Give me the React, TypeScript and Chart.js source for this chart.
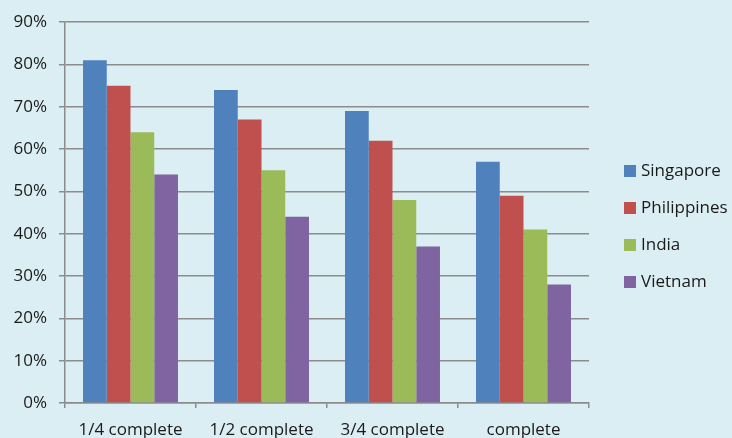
import React, { useEffect, useRef } from "react";
import { Chart, registerables } from "chart.js";

Chart.register(...registerables);

const categories = ["1/4 complete", "1/2 complete", "3/4 complete", "complete"];
const seriesNames = ["Singapore", "Philippines", "India", "Vietnam"];
const singapore = [81, 74, 69, 57];
const philippines = [75, 67, 62, 49];
const india = [64, 55, 48, 41];
const vietnam = [54, 44, 37, 28];
const colors = ["#4F81BD", "#C0504D", "#9BBB59", "#8064A2"];
const FONT = "'Open Sans', sans-serif";

const legendPlugin = {
  id: "customLegend",
  afterDraw(chart: any) {
    const ctx = chart.ctx;
    ctx.save();
    ctx.font = `17px ${FONT}`;
    ctx.textBaseline = "middle";
    ctx.textAlign = "left";
    chart.data.datasets.forEach((ds: any, i: number) => {
      const y = 171 + i * 37;
      ctx.fillStyle = ds.backgroundColor;
      ctx.fillRect(624, y - 6, 12, 12);
      ctx.fillStyle = "#1a1a1a";
      ctx.fillText(ds.label, 641, y);
    });
    ctx.restore();
  },
};

export default function App() {
  const ref = useRef<HTMLCanvasElement>(null);
  useEffect(() => {
    document.body.style.margin = "0";
    const values = [singapore, philippines, india, vietnam];
    const chart = new Chart(ref.current!, {
      type: "bar",
      data: {
        labels: categories,
        datasets: seriesNames.map((name, i) => ({
          label: name,
          data: values[i],
          backgroundColor: colors[i],
          borderWidth: 0,
          barPercentage: 1,
          categoryPercentage: 0.725,
        })),
      },
      options: {
        animation: false,
        responsive: false,
        maintainAspectRatio: false,
        layout: { padding: { top: 17, right: 143, left: 0, bottom: 0 } },
        plugins: { legend: { display: false }, tooltip: { enabled: false } },
        scales: {
          x: {
            grid: {
              display: true,
              drawOnChartArea: false,
              drawTicks: true,
              tickLength: 5,
              color: "#8c8c8c",
              lineWidth: 1.5,
            },
            border: { display: true, color: "#8c8c8c", width: 1.5 },
            ticks: { color: "#1a1a1a", font: { family: FONT, size: 17 }, padding: 12, maxRotation: 0 },
            afterFit(scale: any) {
              scale.height = 35;
            },
          },
          y: {
            min: 0,
            max: 90,
            ticks: {
              stepSize: 10,
              color: "#1a1a1a",
              font: { family: FONT, size: 17 },
              padding: 12,
              callback: (v: any) => v + "%",
            },
            grid: { color: "#8c8c8c", lineWidth: 1.5, tickLength: 6 },
            border: { display: true, color: "#8c8c8c", width: 1.5 },
            afterFit(scale: any) {
              scale.width = 65;
            },
          },
        },
      },
      plugins: [
        {
          id: "bg",
          beforeDraw(c: any) {
            const ctx = c.ctx;
            ctx.save();
            ctx.fillStyle = "#DBEEF4";
            ctx.fillRect(0, 0, c.width, c.height);
            ctx.restore();
          },
        },
        legendPlugin,
      ],
    });
    return () => chart.destroy();
  }, []);
  return (
    <div style={{ width: 732, height: 438 }}>
      <canvas ref={ref} width={732} height={438} style={{ display: "block" }} />
    </div>
  );
}
